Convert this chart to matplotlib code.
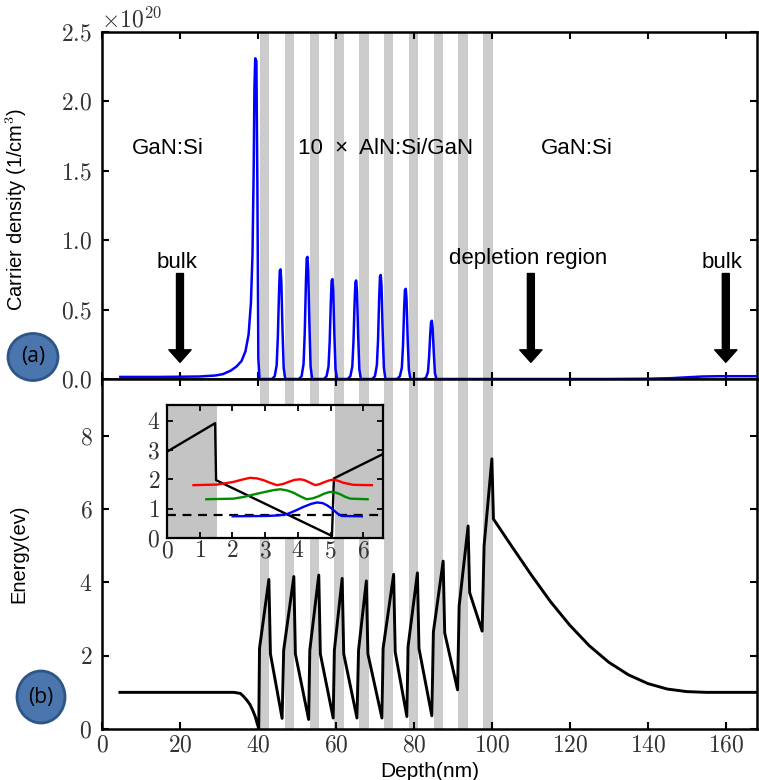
import matplotlib
matplotlib.use('Agg')
import matplotlib.pyplot as plt
from matplotlib.patches import Ellipse
from matplotlib.ticker import FuncFormatter

# AlN barrier layers (nm)
barrier_starts = [40.5, 46.9, 53.3, 59.6, 66.0, 72.3, 78.7, 85.1, 91.4, 97.8]
barrier_width = 2.4

# carrier density, in units of 1e20 cm^-3
dens_x = [4.7, 15, 25, 29, 31, 33, 34.5, 35.8, 36.8, 37.6, 38.2, 38.6, 38.9, 39.1, 39.3, 39.6, 39.85, 40.1, 40.4,
          43.6, 44.3, 44.8, 45.1, 45.4, 45.6, 45.8, 46.0, 46.3, 46.6, 47.0,
          50.5, 51.2, 51.7, 52.0, 52.3, 52.5, 52.7, 52.9, 53.2, 53.5, 53.9,
          56.9, 57.6, 58.1, 58.4, 58.7, 58.9, 59.1, 59.3, 59.6, 59.9, 60.3,
          63.0, 63.7, 64.2, 64.5, 64.8, 65.0, 65.2, 65.4, 65.7, 66.0, 66.4,
          69.3, 70.0, 70.5, 70.8, 71.1, 71.3, 71.5, 71.7, 72.0, 72.3, 72.7,
          75.7, 76.4, 76.9, 77.2, 77.5, 77.7, 77.9, 78.1, 78.4, 78.7, 79.1,
          82.4, 83.1, 83.6, 83.9, 84.2, 84.4, 84.6, 84.8, 85.1, 85.4, 85.8,
          100, 130, 140, 146, 150, 154, 158, 168]
dens_y = [0.015, 0.015, 0.018, 0.025, 0.035, 0.06, 0.09, 0.13, 0.2, 0.32, 0.55, 0.9, 1.5, 2.1, 2.31, 2.29, 1.4, 0.15, 0.0,
          0.0, 0.02, 0.1, 0.3, 0.62, 0.78, 0.79, 0.7, 0.35, 0.08, 0.0,
          0.0, 0.02, 0.11, 0.33, 0.69, 0.87, 0.88, 0.78, 0.39, 0.09, 0.0,
          0.0, 0.02, 0.09, 0.27, 0.56, 0.71, 0.72, 0.64, 0.32, 0.07, 0.0,
          0.0, 0.02, 0.09, 0.27, 0.56, 0.70, 0.71, 0.63, 0.32, 0.07, 0.0,
          0.0, 0.02, 0.1, 0.28, 0.59, 0.74, 0.75, 0.67, 0.33, 0.08, 0.0,
          0.0, 0.02, 0.08, 0.24, 0.51, 0.64, 0.65, 0.58, 0.29, 0.07, 0.0,
          0.0, 0.01, 0.05, 0.16, 0.33, 0.41, 0.42, 0.37, 0.19, 0.04, 0.0,
          0.0, 0.0, 0.002, 0.006, 0.012, 0.018, 0.02, 0.02]

# conduction band energy (eV)
energy_x = [4.6, 20, 30, 33.8, 35.5, 36.3, 37.2, 38.0, 38.7, 39.3, 39.8, 40.2,
            40.4, 42.8, 43.2, 46.2,
            46.6, 49.2, 49.6, 53.0,
            53.3, 55.6, 56.0, 59.3,
            59.6, 61.6, 62.0, 65.4,
            65.8, 67.8, 68.2, 71.8,
            72.1, 74.8, 75.2, 78.2,
            78.5, 80.9, 81.3, 84.6,
            85.0, 87.5, 87.9, 91.2,
            91.6, 93.9, 94.3, 97.5,
            98.0, 100.0, 100.4,
            105, 110, 115, 120, 125, 130, 135, 140, 145, 150, 155, 168]
energy_y = [1.0, 1.0, 1.0, 1.0, 0.97, 0.89, 0.78, 0.66, 0.5, 0.34, 0.15, 0.02,
            2.2, 4.08, 2.05, 0.29,
            2.15, 4.16, 2.05, 0.26,
            2.15, 4.2, 2.05, 0.3,
            2.15, 4.11, 2.05, 0.3,
            2.15, 4.04, 2.05, 0.3,
            2.2, 4.22, 2.1, 0.34,
            2.25, 4.26, 2.2, 0.36,
            2.65, 4.58, 2.62, 1.07,
            3.35, 5.54, 3.72, 2.67,
            5.0, 7.37, 5.73,
            5.0, 4.22, 3.48, 2.83, 2.27, 1.82, 1.48, 1.24, 1.09, 1.02, 1.0, 1.0]

# inset: band edge, Fermi level and subband wavefunctions
inset_band_x = [0, 1.47, 1.5, 5.04, 5.1, 6.6]
inset_band_y = [2.94, 3.91, 1.97, 0.07, 2.03, 2.86]
fermi_level = 0.77
red_x = [0.81, 1.53, 2.03, 2.3, 2.54, 2.75, 2.95, 3.15, 3.36, 3.55, 3.71, 3.9, 4.07, 4.2, 4.32, 4.45, 4.53, 4.65, 4.78, 4.95, 5.09, 5.25, 5.39, 5.7, 6.26]
red_y = [1.80, 1.82, 1.91, 1.99, 2.05, 2.03, 1.97, 1.88, 1.80, 1.84, 1.91, 1.98, 2.0, 1.97, 1.91, 1.84, 1.80, 1.83, 1.89, 1.96, 1.99, 1.94, 1.88, 1.81, 1.80]
green_x = [1.2, 2.03, 2.35, 2.64, 3.0, 3.25, 3.46, 3.67, 3.87, 4.07, 4.27, 4.45, 4.63, 4.8, 4.98, 5.15, 5.29, 5.45, 5.6, 6.13]
green_y = [1.32, 1.34, 1.4, 1.48, 1.57, 1.63, 1.66, 1.62, 1.54, 1.42, 1.32, 1.35, 1.42, 1.51, 1.57, 1.55, 1.49, 1.4, 1.34, 1.32]
blue_x = [2.01, 3.05, 3.4, 3.66, 3.9, 4.17, 4.4, 4.58, 4.75, 4.88, 5.0, 5.09, 5.2, 5.34, 5.95]
blue_y = [0.74, 0.75, 0.77, 0.81, 0.92, 1.06, 1.16, 1.21, 1.19, 1.12, 1.03, 0.95, 0.84, 0.75, 0.74]

depth_ticks = [0, 20, 40, 60, 80, 100, 120, 140, 160]
dens_ticks = [0.0, 0.5, 1.0, 1.5, 2.0, 2.5]
energy_ticks = [0, 2, 4, 6, 8]

plt.rcParams['font.family'] = ['Liberation Sans', 'DejaVu Sans']
plt.rcParams['mathtext.fontset'] = 'cm'

W, H = 759, 780
fig = plt.figure(figsize=(W / 100, H / 100), dpi=100)
ax1 = fig.add_axes([102 / W, 1 - 379 / H, 655 / W, 347 / H])
ax2 = fig.add_axes([102 / W, 1 - 729 / H, 655 / W, 350 / H])

cm_int = FuncFormatter(lambda v, p: f'${v:.0f}$')
cm_one = FuncFormatter(lambda v, p: f'${v:.1f}$')

for ax in (ax1, ax2):
    for s in barrier_starts:
        ax.axvspan(s, s + barrier_width, color='#cccccc', lw=0, zorder=0)
    ax.set_xlim(0, 168)
    ax.set_xticks(depth_ticks)
    ax.xaxis.set_major_formatter(cm_int)
    ax.tick_params(direction='in', top=True, right=True, length=5, width=1.5,
                   labelsize=17, labelcolor='#333333', pad=7)
    for sp in ax.spines.values():
        sp.set_linewidth(1.8)

# (a) carrier density
ax1.plot(dens_x, dens_y, color='#0000ff', lw=1.8, zorder=3)
ax1.set_ylim(0, 2.5)
ax1.set_yticks(dens_ticks)
ax1.yaxis.set_major_formatter(cm_one)
ax1.tick_params(labelbottom=False)
ax1.set_ylabel('Carrier density (1/cm$^3$)', fontsize=14.5)
ax1.yaxis.set_label_coords(-0.112, 0.49)

txt = dict(fontsize=16, ha='center', va='center')
ax1.text(16.8, 1.66, 'GaN:Si', **txt)
ax1.text(72.7, 1.66, '10  \u00d7  AlN:Si/GaN', **txt)
ax1.text(121.7, 1.66, 'GaN:Si', **txt)
ax1.text(19.3, 0.84, 'bulk', **txt)
ax1.text(109.3, 0.87, 'depletion region', **txt)
ax1.text(159.0, 0.84, 'bulk', **txt)
for xa in (20, 110, 160):
    ax1.annotate('', xy=(xa, 0.12), xytext=(xa, 0.76),
                 arrowprops=dict(facecolor='k', edgecolor='k', width=5, headwidth=16, headlength=9))

fig.text(101 / W, 1 - 27 / H, r'$\times 10^{20}$', fontsize=17, ha='left', va='baseline', color='#333333')

# (b) energy
ax2.plot(energy_x, energy_y, color='k', lw=2.1, zorder=3)
ax2.set_ylim(0, 9.55)
ax2.set_yticks(energy_ticks)
ax2.yaxis.set_major_formatter(cm_int)
ax2.tick_params(axis='x', pad=4)
ax2.set_ylabel('Energy(ev)', fontsize=14.5)
ax2.yaxis.set_label_coords(-0.112, 0.5)
ax2.set_xlabel('Depth(nm)', fontsize=15)
ax2.xaxis.set_label_coords(0.5, -0.095)

# inset
axi = fig.add_axes([167 / W, 1 - 538 / H, 216 / W, 133 / H], zorder=5)
axi.set_facecolor('white')
axi.axvspan(0, 1.53, color='#c4c4c4', lw=0, zorder=0)
axi.axvspan(5.14, 6.6, color='#c4c4c4', lw=0, zorder=0)
axi.plot(inset_band_x, inset_band_y, color='k', lw=1.7)
axi.axhline(fermi_level, color='k', lw=1.6, ls=(0, (4, 3)))
axi.plot(red_x, red_y, color='#ff0000', lw=1.7)
axi.plot(green_x, green_y, color='#008c00', lw=1.7)
axi.plot(blue_x, blue_y, color='#0000ff', lw=1.7)
axi.set_xlim(0, 6.6)
axi.set_ylim(0, 4.53)
axi.set_xticks(range(7))
axi.set_yticks(range(5))
axi.xaxis.set_major_formatter(cm_int)
axi.yaxis.set_major_formatter(cm_int)
axi.tick_params(direction='in', top=True, right=True, length=4, width=1.3,
                labelsize=17, labelcolor='#333333', pad=1.5)
axi.tick_params(axis='y', pad=5)
for sp in axi.spines.values():
    sp.set_linewidth(1.6)

# panel badges
for cx, cy, w, h, lab in [(33, 357, 50, 47, '(a)'), (41, 697, 48, 52, '(b)')]:
    fig.patches.append(Ellipse((cx / W, 1 - cy / H), w / W, h / H, transform=fig.transFigure,
                               facecolor='#4b75ad', edgecolor='#2e5588', lw=2, zorder=10))
    fig.text(cx / W, 1 - cy / H, lab, fontsize=15, family='Open Sans', ha='center', va='center', zorder=11)

fig.savefig('out.png', dpi=100)
